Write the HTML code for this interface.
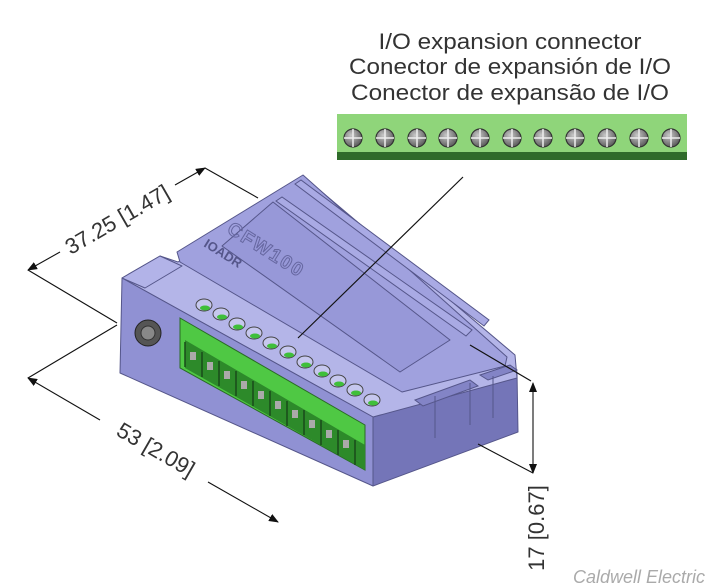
<!DOCTYPE html>
<html><head><meta charset="utf-8"><style>
html,body{margin:0;padding:0;background:#fff;}
svg{display:block;}
text{font-family:"Liberation Sans",sans-serif;}
</style></head><body>
<svg width="710" height="588" viewBox="0 0 710 588" xmlns="http://www.w3.org/2000/svg">
<defs>
<marker id="ar" markerWidth="10" markerHeight="8" refX="9" refY="4" orient="auto-start-reverse" markerUnits="userSpaceOnUse">
<path d="M0,0 L10,4 L0,8 z" fill="#111"/></marker>
<radialGradient id="scr" cx="0.4" cy="0.35" r="0.7"><stop offset="0" stop-color="#c8c8c8"/><stop offset="1" stop-color="#555"/></radialGradient>
</defs>

<!-- title -->
<g fill="#333" font-size="22" text-anchor="middle">
<text x="510" y="49" textLength="263" lengthAdjust="spacingAndGlyphs">I/O expansion connector</text>
<text x="510" y="74" textLength="322" lengthAdjust="spacingAndGlyphs">Conector de expansión de I/O</text>
<text x="510" y="100" textLength="318" lengthAdjust="spacingAndGlyphs">Conector de expansão de I/O</text>
</g>

<!-- green connector strip -->
<rect x="337" y="114" width="350" height="46" fill="#8fd57a"/>
<rect x="337" y="152" width="350" height="8" fill="#2f6b2a"/>
<g stroke="#333" stroke-width="1.2">
<circle cx="353" cy="138" r="9" fill="url(#scr)"/>
<circle cx="385" cy="138" r="9" fill="url(#scr)"/>
<circle cx="417" cy="138" r="9" fill="url(#scr)"/>
<circle cx="448" cy="138" r="9" fill="url(#scr)"/>
<circle cx="480" cy="138" r="9" fill="url(#scr)"/>
<circle cx="512" cy="138" r="9" fill="url(#scr)"/>
<circle cx="543" cy="138" r="9" fill="url(#scr)"/>
<circle cx="575" cy="138" r="9" fill="url(#scr)"/>
<circle cx="607" cy="138" r="9" fill="url(#scr)"/>
<circle cx="639" cy="138" r="9" fill="url(#scr)"/>
<circle cx="671" cy="138" r="9" fill="url(#scr)"/>
</g>
<g stroke="#eee" stroke-width="1.5">
<path d="M344,138h18M353,129v18M376,138h18M385,129v18M408,138h18M417,129v18M439,138h18M448,129v18M471,138h18M480,129v18M503,138h18M512,129v18M534,138h18M543,129v18M566,138h18M575,129v18M598,138h18M607,129v18M630,138h18M639,129v18M662,138h18M671,129v18"/>
</g>

<!-- device -->
<g stroke="#55568a" stroke-width="1" stroke-linejoin="round">
<!-- right end face -->
<polygon points="373,417 517,372 518,432 373,486" fill="#7475b8"/>
<!-- lower deck -->
<polygon points="122,278 160,256 178,262 303,176 515,355 517,378 373,417" fill="#b4b5e8"/>
<!-- cover -->
<polygon points="177,252 303,175 507,357 505,366 402,392 180,262" fill="#a0a1de"/>
<!-- label recess -->
<polygon points="222,246 273,202 450,340 400,372" fill="#9798d8"/>
<!-- front face -->
<polygon points="122,278 373,417 373,486 120,373" fill="#9091d3"/>
<!-- left block top -->
<polygon points="122,278 160,256 182,266 145,288" fill="#b2b3e8"/>
</g>
<!-- ridges -->
<g stroke="#55568a" stroke-width="1" fill="#a9aae4">
<polygon points="295,184 301,180 489,320 484,326"/>
<polygon points="276,201 282,197 472,330 466,336"/>
</g>
<!-- right end details -->
<g stroke="#55568a" fill="#8384c6">
<polygon points="415,400 470,380 478,386 423,406"/>
<polygon points="480,375 510,365 517,370 488,380"/>
<path d="M435,396v42M470,383v42M493,376v42" fill="none"/>
</g>
<!-- logo text -->
<text x="0" y="0" transform="translate(226,232) rotate(32)" font-size="19" fill="none" stroke="#6667a0" font-weight="bold" letter-spacing="2">CFW100</text>
<text x="0" y="0" transform="translate(203,246) rotate(32)" font-size="13" fill="#55568a" font-weight="bold">IOADR</text>

<!-- green terminal block -->
<polygon points="180,318 365,425 365,470 180,368" fill="#4fc844" stroke="#2a6a25"/>
<polygon points="185,340 365,445 365,470 185,368" fill="#2d8a2a"/>
<g stroke="#1a4a1a" stroke-width="1.5">
<path d="M185,342v25M202,352v25M219,361v25M236,371v25M253,381v25M270,391v25M287,401v25M304,410v25M321,420v25M338,430v25M355,440v25"/>
</g>
<g fill="#aaa">
<rect x="190" y="352" width="6" height="8"/><rect x="207" y="362" width="6" height="8"/><rect x="224" y="371" width="6" height="8"/><rect x="241" y="381" width="6" height="8"/><rect x="258" y="391" width="6" height="8"/><rect x="275" y="401" width="6" height="8"/><rect x="292" y="410" width="6" height="8"/><rect x="309" y="420" width="6" height="8"/><rect x="326" y="430" width="6" height="8"/><rect x="343" y="440" width="6" height="8"/>
</g>

<!-- holes -->
<g fill="#c6c7ee" stroke="#444" stroke-width="1">
<ellipse cx="204" cy="305" rx="8" ry="6"/><ellipse cx="221" cy="314" rx="8" ry="6"/><ellipse cx="237" cy="324" rx="8" ry="6"/><ellipse cx="254" cy="333" rx="8" ry="6"/><ellipse cx="271" cy="343" rx="8" ry="6"/><ellipse cx="288" cy="352" rx="8" ry="6"/><ellipse cx="305" cy="362" rx="8" ry="6"/><ellipse cx="322" cy="371" rx="8" ry="6"/><ellipse cx="338" cy="381" rx="8" ry="6"/><ellipse cx="355" cy="390" rx="8" ry="6"/><ellipse cx="372" cy="400" rx="8" ry="6"/>
</g>
<g fill="#3fbf3a">
<ellipse cx="205" cy="308" rx="5" ry="2.5"/><ellipse cx="222" cy="317" rx="5" ry="2.5"/><ellipse cx="238" cy="327" rx="5" ry="2.5"/><ellipse cx="255" cy="336" rx="5" ry="2.5"/><ellipse cx="272" cy="346" rx="5" ry="2.5"/><ellipse cx="289" cy="355" rx="5" ry="2.5"/><ellipse cx="306" cy="365" rx="5" ry="2.5"/><ellipse cx="323" cy="374" rx="5" ry="2.5"/><ellipse cx="339" cy="384" rx="5" ry="2.5"/><ellipse cx="356" cy="393" rx="5" ry="2.5"/><ellipse cx="373" cy="403" rx="5" ry="2.5"/>
</g>
<!-- jack -->
<circle cx="148" cy="333" r="13" fill="#555" stroke="#222"/>
<circle cx="148" cy="333" r="7" fill="#888" stroke="#333"/>

<!-- leader lines -->
<g stroke="#111" stroke-width="1.2" fill="none">
<line x1="463" y1="177" x2="298" y2="338"/>
<line x1="470" y1="345" x2="531" y2="381"/>
</g>

<!-- dimensions -->
<g stroke="#111" stroke-width="1.1" fill="none">
<line x1="205" y1="168" x2="258" y2="198"/>
<line x1="28" y1="270" x2="117" y2="323"/>
<line x1="117" y1="325" x2="28" y2="378"/>
<line x1="478" y1="444" x2="533" y2="473"/>
<line x1="28" y1="270" x2="60" y2="252" marker-start="url(#ar)"/>
<line x1="175" y1="185" x2="205" y2="168" marker-end="url(#ar)"/>
<line x1="28" y1="378" x2="100" y2="420" marker-start="url(#ar)"/>
<line x1="208" y1="482" x2="278" y2="522" marker-end="url(#ar)"/>
<line x1="533" y1="383" x2="533" y2="473" marker-start="url(#ar)" marker-end="url(#ar)"/>
</g>
<g fill="#333" font-size="22">
<text transform="translate(118,221) rotate(-30)" text-anchor="middle" dominant-baseline="middle">37.25 [1.47]</text>
<text transform="translate(155,451) rotate(30)" text-anchor="middle" dominant-baseline="middle">53 [2.09]</text>
<text transform="translate(538,528) rotate(-90)" text-anchor="middle" dominant-baseline="middle">17 [0.67]</text>
</g>
<text x="705" y="583" text-anchor="end" font-size="18" font-style="italic" fill="#aaa">Caldwell Electric</text>
</svg>
</body></html>
